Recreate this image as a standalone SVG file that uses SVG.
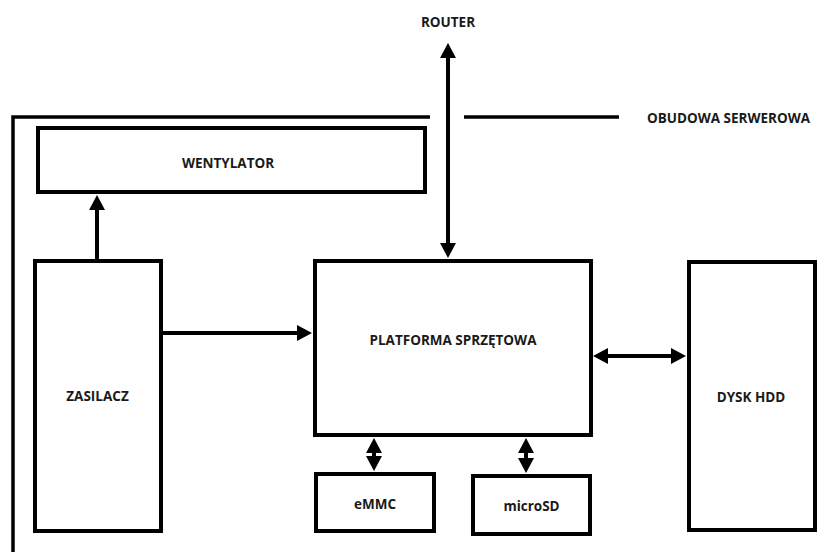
<svg xmlns="http://www.w3.org/2000/svg" width="836" height="552" viewBox="0 0 836 552">
<style>
.box{fill:#fff;stroke:#000;stroke-width:4}
.frame{fill:none;stroke:#000;stroke-width:3.5}
.lbl{font-family:"Open Sans","Liberation Sans",sans-serif;font-weight:700;font-size:13.5px;fill:#1a1a1a;text-anchor:middle}
.conn line{stroke:#000;stroke-width:4}
</style>
<defs>
<marker id="ah" viewBox="0 0 16 16" markerUnits="userSpaceOnUse" markerWidth="16" markerHeight="16" refX="1" refY="8" orient="auto-start-reverse">
<path d="M0,0 L15,8 L0,16 z" fill="#000"/>
</marker>
</defs>
<rect width="836" height="552" fill="#fff"/>
<g id="obudowa">
<path class="frame" d="M13,552 V117 H430"/>
<line class="frame" x1="464" y1="117" x2="619" y2="117"/>
<text class="lbl" x="728.5" y="123">OBUDOWA SERWEROWA</text>
</g>
<g id="router">
<text class="lbl" x="448" y="27">ROUTER</text>
</g>
<g id="wentylator">
<rect class="box" x="38" y="128" width="387" height="64"/>
<text class="lbl" x="228" y="168">WENTYLATOR</text>
</g>
<g id="zasilacz">
<rect class="box" x="35" y="261" width="126" height="270"/>
<text class="lbl" x="97.5" y="401">ZASILACZ</text>
</g>
<g id="platforma">
<rect class="box" x="315" y="261" width="276" height="174"/>
<text class="lbl" x="453" y="345">PLATFORMA SPRZĘTOWA</text>
</g>
<g id="hdd">
<rect class="box" x="689" y="262" width="126" height="268"/>
<text class="lbl" x="751" y="402">DYSK HDD</text>
</g>
<g id="emmc">
<rect class="box" x="316" y="474" width="118" height="57"/>
<text class="lbl" x="375" y="509">eMMC</text>
</g>
<g id="microsd">
<rect class="box" x="473" y="476" width="117" height="58"/>
<text class="lbl" x="531.5" y="511">microSD</text>
</g>
<g id="connectors" class="conn">
<line x1="97" y1="259" x2="97" y2="209" marker-end="url(#ah)"/>
<line x1="161" y1="333" x2="298" y2="333" marker-end="url(#ah)"/>
<line x1="448" y1="57" x2="448" y2="244" marker-start="url(#ah)" marker-end="url(#ah)"/>
<line x1="607" y1="356" x2="672" y2="356" marker-start="url(#ah)" marker-end="url(#ah)"/>
<line x1="374" y1="452" x2="374" y2="457" marker-start="url(#ah)" marker-end="url(#ah)"/>
<line x1="526" y1="452" x2="526" y2="459" marker-start="url(#ah)" marker-end="url(#ah)"/>
</g>
</svg>
